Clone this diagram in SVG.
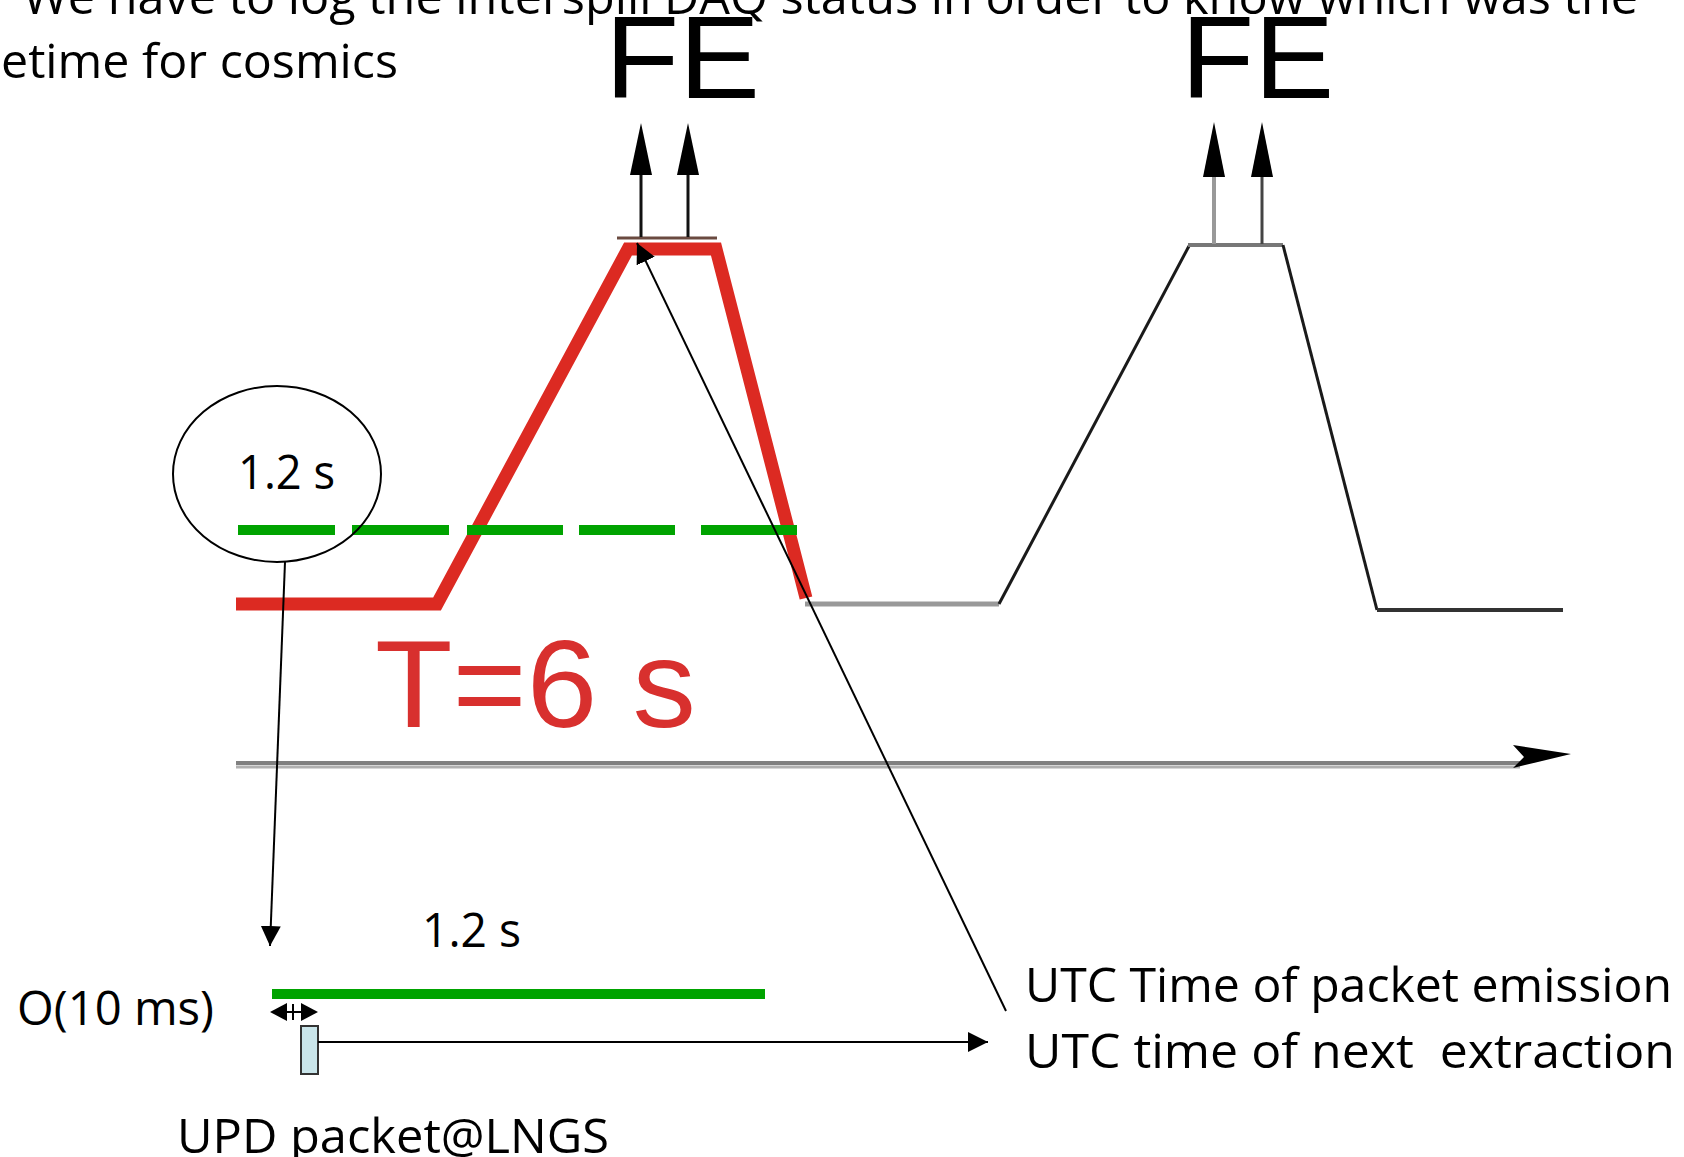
<svg xmlns="http://www.w3.org/2000/svg" width="1684" height="1157" viewBox="0 0 1684 1157">
<defs>
<style>
.t{font-family:"Open Sans","Noto Sans","DejaVu Sans",sans-serif;font-size:48px;fill:#000}
.fe{font-family:"Liberation Sans",Arial,sans-serif;font-size:116px;fill:#000}
.red{fill:none;stroke:#dc2a22;stroke-width:13;stroke-linejoin:miter}
.blk{fill:none;stroke:#1a1a1a;stroke-width:3}
.con{fill:none;stroke:#000;stroke-width:2}
.grn{stroke:#00a300;stroke-width:10}
</style>
<marker id="ah" viewBox="0 0 20 20" refX="20" refY="10" markerWidth="20" markerHeight="20" markerUnits="userSpaceOnUse" orient="auto"><path d="M0,0 L20,10 L0,20 Z" fill="#000"/></marker>
</defs>
<rect width="1684" height="1157" fill="#fff"/>

<g id="header">
<text class="t" x="23" y="14" textLength="1615" lengthAdjust="spacingAndGlyphs">We have to log the interspill DAQ status in order to know which was the</text>
<text class="t" x="1" y="78" textLength="397" lengthAdjust="spacingAndGlyphs">etime for cosmics</text>
</g>

<g id="axis">
<line x1="236" y1="763" x2="1520" y2="763" stroke="#808080" stroke-width="4"/>
<line x1="236" y1="767" x2="1520" y2="767" stroke="#b0b0b0" stroke-width="3"/>
<polygon points="1513,745 1571,754 1513,768 1524,757" fill="#000"/>
</g>

<g id="pulse1">
<polyline class="red" points="236,604 437,604 628,249 716,249 806,598"/>
<line x1="617" y1="238" x2="717" y2="238" stroke="#6a4a40" stroke-width="3"/>
<line x1="805" y1="604" x2="999" y2="604" stroke="#999" stroke-width="5"/>
<text x="375" y="727" textLength="321" lengthAdjust="spacingAndGlyphs" style="font-family:'Liberation Sans',Arial,sans-serif;font-size:124px;fill:#d8302e">T=6 s</text>
</g>

<g id="pulse2">
<polyline class="blk" points="999,604 1189,246"/>
<line x1="1188" y1="245" x2="1283" y2="245" stroke="#777" stroke-width="4"/>
<polyline class="blk" points="1283,245 1377,610"/>
<line x1="1377" y1="610" x2="1563" y2="610" stroke="#333" stroke-width="4"/>
</g>

<g id="fe1">
<text class="fe" x="605" y="98" textLength="155" lengthAdjust="spacingAndGlyphs">FE</text>
<line x1="641" y1="237" x2="641" y2="172" stroke="#111" stroke-width="3"/>
<line x1="688" y1="237" x2="688" y2="172" stroke="#111" stroke-width="3"/>
<polygon points="641,123 652,175 630,175" fill="#000"/>
<polygon points="688,123 699,175 677,175" fill="#000"/>
</g>

<g id="fe2">
<text class="fe" x="1181" y="98" textLength="153" lengthAdjust="spacingAndGlyphs">FE</text>
<line x1="1214" y1="244" x2="1214" y2="174" stroke="#999" stroke-width="4"/>
<line x1="1262" y1="244" x2="1262" y2="174" stroke="#444" stroke-width="3"/>
<polygon points="1214,122 1225,177 1203,177" fill="#000"/>
<polygon points="1262,122 1273,177 1251,177" fill="#000"/>
</g>

<g id="threshold">
<line class="grn" x1="238" y1="530" x2="335" y2="530"/>
<line class="grn" x1="352" y1="530" x2="449" y2="530"/>
<line class="grn" x1="467" y1="530" x2="563" y2="530"/>
<line class="grn" x1="579" y1="530" x2="675" y2="530"/>
<line class="grn" x1="701" y1="530" x2="797" y2="530"/>
</g>

<g id="zoom-circle">
<ellipse cx="277" cy="474" rx="104" ry="88" fill="none" stroke="#000" stroke-width="2"/>
<text class="t" x="238" y="489" textLength="97" lengthAdjust="spacingAndGlyphs">1.2 s</text>
</g>

<g id="detail">
<text class="t" x="422" y="947" textLength="99" lengthAdjust="spacingAndGlyphs">1.2 s</text>
<line class="grn" x1="272" y1="994" x2="765" y2="994"/>
<text class="t" x="17" y="1025" textLength="197" lengthAdjust="spacingAndGlyphs">O(10 ms)</text>
<line x1="284" y1="1012" x2="304" y2="1012" stroke="#000" stroke-width="2"/>
<polygon points="270,1012 287,1003 287,1021" fill="#000"/>
<polygon points="318,1012 301,1003 301,1021" fill="#000"/>
<line x1="293" y1="1004" x2="293" y2="1020" stroke="#000" stroke-width="2"/>
</g>

<g id="packet">
<rect x="301" y="1026" width="17" height="48" fill="#c9e5ea" stroke="#333" stroke-width="2"/>
<text class="t" x="177" y="1153" textLength="432" lengthAdjust="spacingAndGlyphs">UPD packet@LNGS</text>
</g>

<g id="labels">
<text class="t" x="1025" y="1002" textLength="647" lengthAdjust="spacingAndGlyphs">UTC Time of packet emission</text>
<text class="t" x="1025" y="1068" textLength="650" lengthAdjust="spacingAndGlyphs" xml:space="preserve">UTC time of next  extraction</text>
</g>

<g id="connectors">
<line class="con" x1="285" y1="562" x2="270" y2="946" marker-end="url(#ah)"/>
<line class="con" x1="1006" y1="1011" x2="637" y2="243" marker-end="url(#ah)"/>
<line x1="318" y1="1042" x2="988" y2="1042" stroke="#000" stroke-width="2" marker-end="url(#ah)"/>
</g>
</svg>
